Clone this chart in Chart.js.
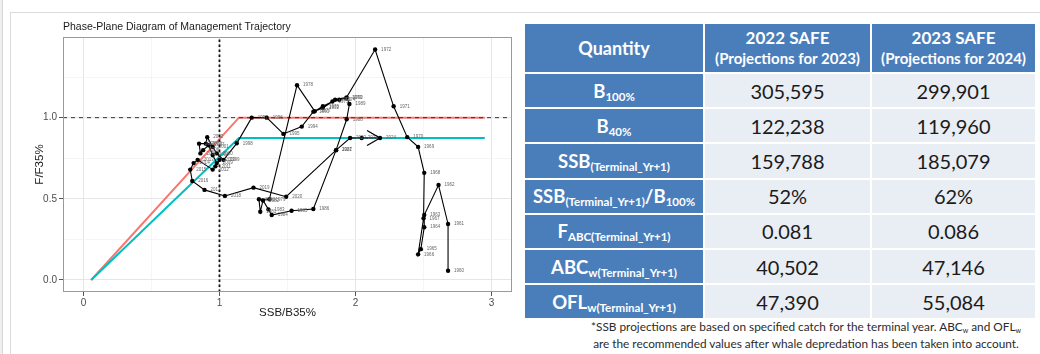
<!DOCTYPE html>
<html>
<head>
<meta charset="utf-8">
<script src="https://cdn.jsdelivr.net/npm/chart.js@4/dist/chart.umd.min.js"></script>
<style>
  html, body { margin: 0; padding: 0; background: #fff; width: 1040px; height: 354px; overflow: hidden; }
  #edge { position: absolute; left: 0; top: 0; width: 2px; height: 354px; background: #efefef; border-right: 1px solid #d6d6d6; }
  #frame { position: absolute; left: 10px; top: 12px; width: 1040px; height: 360px; border-left: 1px solid #dcdcdc; border-top: 1px solid #dcdcdc; }
  #plot { position: absolute; left: 0; top: 0; }
  #tbl { position: absolute; left: 523px; top: 22px; width: 512px; border-collapse: collapse; table-layout: fixed;
         font-family: Lato, "Liberation Sans", sans-serif; }
  #tbl td, #tbl th { border: 2px solid #fff; padding: 0; text-align: center; vertical-align: middle; white-space: nowrap; }
  #tbl th { background: #4a7ebb; color: #fff; font-weight: bold; height: 48px; }
  #tbl th.q { font-size: 18px; }
  #tbl th .h1 { font-size: 17px; line-height: 20px; }
  #tbl th .h2 { font-size: 15px; line-height: 20px; }
  #tbl td { height: 33.2px; }
  #tbl td.lab { background: #4a7ebb; color: #fff; font-weight: bold; font-size: 18.5px; }
  #tbl td.lab sub { font-size: 11.5px; vertical-align: -3px; line-height: 0; }
  #tbl td.val { background: #e9edf4; color: #1b1b1b; font-size: 20px; }
  #note { position: absolute; left: 568px; top: 318px; width: 476px; text-align: center;
          font-family: Lato, "Liberation Sans", sans-serif; font-size: 11.8px; line-height: 17px; color: #2b2b2b; }
  #note sub { font-size: 7px; vertical-align: -2px; line-height: 0; }
</style>
</head>
<body>
<div id="edge"></div>
<div id="frame"></div>
<canvas id="plot" width="520" height="354"></canvas>
<table id="tbl">
  <colgroup><col style="width:180px"><col style="width:167px"><col style="width:165px"></colgroup>
  <thead>
    <tr>
      <th class="q">Quantity</th>
      <th><span class="h1">2022 SAFE</span><br><span class="h2">(Projections for 2023)</span></th>
      <th><span class="h1">2023 SAFE</span><br><span class="h2">(Projections for 2024)</span></th>
    </tr>
  </thead>
  <tbody id="rows"></tbody>
</table>
<div id="note">*SSB projections are based on specified catch for the terminal year. ABC<sub>w</sub> and OFL<sub>w</sub><br>are the recommended values after whale depredation has been taken into account.</div>

<script>
// Management trajectory: year, SSB/B35% and F/F35%
const years = [1960, 1961, 1962, 1963, 1964, 1965, 1966, 1967, 1968, 1969,
               1970, 1971, 1972, 1973, 1974, 1975, 1976, 1977, 1978, 1979,
               1980, 1981, 1982, 1983, 1984, 1985, 1986, 1987, 1988, 1989,
               1990, 1991, 1992, 1993, 1994, 1995, 1996, 1997, 1998, 1999,
               2000, 2001, 2002, 2003, 2004, 2005, 2006, 2007, 2008, 2009,
               2010, 2011, 2012, 2013, 2014, 2015, 2016, 2017, 2018, 2019,
               2020, 2021, 2022, 2023, 2024];
const ssbRatio = [2.68, 2.68, 2.61, 2.505, 2.505, 2.48, 2.46, 2.50, 2.505, 2.46,
                  2.38, 2.28, 2.144, 1.93, 1.88, 1.83, 1.76, 1.70, 1.57, 1.367,
                  1.29, 1.30, 1.32, 1.36, 1.384, 1.53, 1.69, 1.857, 1.935, 1.955,
                  1.935, 1.85, 1.76, 1.69, 1.605, 1.47, 1.347, 1.237, 1.127, 1.03,
                  0.98, 0.95, 0.91, 0.90, 0.85, 0.86, 0.88, 0.92, 0.95, 0.98,
                  1.00, 0.97, 0.95, 0.84, 0.81, 0.785, 0.80, 0.89, 1.04, 1.25,
                  1.49, 1.857, 1.96, 2.045, 2.18];
const fRatio = [0.057, 0.345, 0.585, 0.40, 0.325, 0.19, 0.158, 0.38, 0.66, 0.82,
                0.88, 1.07, 1.42, 1.12, 1.11, 1.10, 1.07, 1.04, 1.20, 0.497,
                0.497, 0.42, 0.49, 0.435, 0.40, 0.427, 0.437, 0.80, 0.99, 1.084,
                1.125, 1.11, 1.06, 1.037, 0.945, 0.90, 1.0, 1.0, 0.842, 0.74,
                0.78, 0.82, 0.88, 0.84, 0.84, 0.78, 0.80, 0.83, 0.77, 0.72,
                0.74, 0.70, 0.68, 0.74, 0.72, 0.68, 0.61, 0.555, 0.518, 0.569,
                0.513, 0.80, 0.875, 0.875, 0.875];

// Harvest control rule (OFL and maxABC) as break points
const ruleX = [0.057, 1.143, 2.95];
const oflRule = [0, 1.0, 1.0];
const abcRule = [0, 0.875, 0.875];

// Axis ranges and reference lines
const xRange = [-0.15, 3.15];
const yRange = [-0.074, 1.497];
const refB = 1;   // SSB = B35%
const refF = 1;   // F = F35%

// Table contents
const quantities = ['B<sub>100%</sub>', 'B<sub>40%</sub>', 'SSB<sub>(Terminal_Yr+1)</sub>',
                    'SSB<sub>(Terminal_Yr+1)</sub>/B<sub>100%</sub>', 'F<sub>ABC(Terminal_Yr+1)</sub>',
                    'ABC<sub>w(Terminal_Yr+1)</sub>', 'OFL<sub>w(Terminal_Yr+1)</sub>'];
const safe2022 = ['305,595', '122,238', '159,788', '52%', '0.081', '40,502', '47,390'];
const safe2023 = ['299,901', '119,960', '185,079', '62%', '0.086', '47,146', '55,084'];

const tbody = document.getElementById('rows');
quantities.forEach((q, i) => {
  const tr = document.createElement('tr');
  tr.innerHTML = '<td class="lab">' + q + '</td><td class="val">' + safe2022[i] +
                 '</td><td class="val">' + safe2023[i] + '</td>';
  tbody.appendChild(tr);
});

const pts = (xs, ys) => xs.map((x, i) => ({ x: x, y: ys[i] }));

const labelsAndArrow = {
  id: 'labelsAndArrow',
  afterDatasetsDraw(chart) {
    const ctx = chart.ctx;
    const meta = chart.getDatasetMeta(0);
    ctx.save();
    // year labels
    ctx.font = '4.5px "Liberation Sans"';
    ctx.fillStyle = '#666';
    ctx.textBaseline = 'middle';
    ctx.textAlign = 'left';
    meta.data.forEach((p, i) => ctx.fillText(String(years[i]), p.x + 6, p.y));
    // open arrow head on the last step
    const n = meta.data.length;
    const a = meta.data[n - 2], b = meta.data[n - 1];
    const ang = Math.atan2(b.y - a.y, b.x - a.x);
    const len = 15, spread = Math.PI / 6;
    ctx.strokeStyle = '#000';
    ctx.lineWidth = 1.2;
    ctx.beginPath();
    ctx.moveTo(b.x - len * Math.cos(ang - spread), b.y - len * Math.sin(ang - spread));
    ctx.lineTo(b.x, b.y);
    ctx.lineTo(b.x - len * Math.cos(ang + spread), b.y - len * Math.sin(ang + spread));
    ctx.stroke();
    ctx.restore();
  },
  afterDraw(chart) {
    const ctx = chart.ctx, area = chart.chartArea;
    ctx.save();
    ctx.strokeStyle = '#9a9a9a';
    ctx.lineWidth = 1;
    ctx.strokeRect(area.left + 0.5, area.top + 0.5, area.right - area.left - 1, area.bottom - area.top - 1);
    ctx.font = '10.5px "Liberation Sans"';
    ctx.fillStyle = '#1a1a1a';
    ctx.textBaseline = 'middle';
    ctx.fillText('Phase-Plane Diagram of Management Trajectory', area.left, 27);
    ctx.restore();
  }
};

const isMajorX = v => Math.abs(v - Math.round(v)) < 1e-6;
const isMajorY = v => Math.abs(v * 2 - Math.round(v * 2)) < 1e-6;

new Chart(document.getElementById('plot'), {
  type: 'scatter',
  data: {
    datasets: [
      { data: pts(ssbRatio, fRatio), showLine: true, borderColor: '#000', borderWidth: 1.1,
        pointRadius: 2.2, pointBackgroundColor: '#000', pointBorderWidth: 0, order: 0 },
      { data: pts([refB, refB], yRange), showLine: true, borderColor: '#111', borderWidth: 1.8,
        borderDash: [2.5, 2.5], pointRadius: 0, order: 1 },
      { data: pts(xRange, [refF, refF]), showLine: true, borderColor: '#333', borderWidth: 1,
        borderDash: [4, 4], pointRadius: 0, order: 2 },
      { data: pts(ruleX, abcRule), showLine: true, borderColor: '#00bfc4', borderWidth: 2,
        pointRadius: 0, order: 3 },
      { data: pts(ruleX, oflRule), showLine: true, borderColor: '#f8766d', borderWidth: 2,
        pointRadius: 0, order: 4 }
    ]
  },
  options: {
    responsive: false,
    animation: false,
    devicePixelRatio: 1,
    layout: { padding: { left: 0, top: 37, right: 8, bottom: 0 } },
    plugins: { legend: { display: false }, tooltip: { enabled: false } },
    scales: {
      x: {
        type: 'linear', min: xRange[0], max: xRange[1],
        afterFit: s => { s.height = 62; },
        border: { display: false },
        grid: {
          color: c => (c.tick && isMajorX(c.tick.value)) ? '#e6e6e6' : '#f1f1f1',
          lineWidth: c => (c.tick && isMajorX(c.tick.value)) ? 1 : 0.7,
          tickColor: c => (c.tick && isMajorX(c.tick.value)) ? '#555' : 'rgba(0,0,0,0)',
          tickLength: 4, tickWidth: 1
        },
        ticks: {
          stepSize: 0.5, includeBounds: false, autoSkip: false, maxRotation: 0, padding: 1,
          color: '#4d4d4d', font: { family: 'Liberation Sans', size: 10 },
          callback: v => isMajorX(v) ? String(Math.round(v)) : ''
        },
        title: { display: true, text: 'SSB/B35%', color: '#1a1a1a',
                 font: { family: 'Liberation Sans', size: 11.5 }, padding: { top: 0, bottom: 34 } }
      },
      y: {
        type: 'linear', min: yRange[0], max: yRange[1],
        afterFit: s => { s.width = 63; },
        border: { display: false },
        grid: {
          color: c => (c.tick && isMajorY(c.tick.value)) ? '#e6e6e6' : '#f1f1f1',
          lineWidth: c => (c.tick && isMajorY(c.tick.value)) ? 1 : 0.7,
          tickColor: c => (c.tick && isMajorY(c.tick.value)) ? '#555' : 'rgba(0,0,0,0)',
          tickLength: 4, tickWidth: 1
        },
        ticks: {
          stepSize: 0.25, includeBounds: false, autoSkip: false, padding: 2,
          color: '#4d4d4d', font: { family: 'Liberation Sans', size: 10 },
          callback: v => isMajorY(v) ? v.toFixed(1) : ''
        },
        title: { display: true, text: 'F/F35%', color: '#1a1a1a',
                 font: { family: 'Liberation Sans', size: 11.5 }, padding: { top: 33, bottom: 0 } }
      }
    }
  },
  plugins: [labelsAndArrow]
});
</script>
</body>
</html>
